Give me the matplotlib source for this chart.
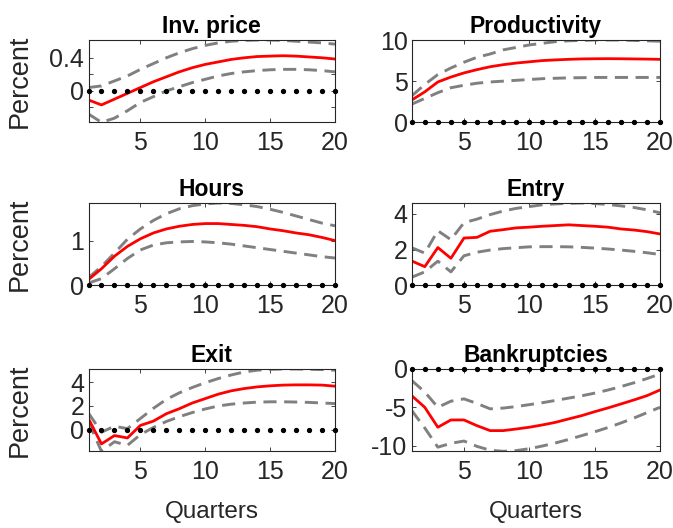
import numpy as np
import matplotlib
matplotlib.use("Agg")
import matplotlib.pyplot as plt

plt.rcParams['font.family'] = ['Liberation Sans', 'DejaVu Sans']

quarters = np.arange(1, 21)

titles = ["Inv. price", "Productivity", "Hours", "Entry", "Exit", "Bankruptcies"]

# median responses (red) and error bands (grey dashed)
inv_mid = [-0.11, -0.17, -0.10, -0.03, 0.04, 0.11, 0.17, 0.23, 0.28, 0.32,
           0.35, 0.38, 0.40, 0.415, 0.42, 0.425, 0.42, 0.41, 0.40, 0.385]
inv_hi = [0.04, 0.06, 0.12, 0.18, 0.26, 0.33, 0.40, 0.46, 0.51, 0.55,
          0.58, 0.60, 0.61, 0.615, 0.615, 0.61, 0.60, 0.59, 0.58, 0.565]
inv_lo = [-0.28, -0.38, -0.33, -0.24, -0.14, -0.07, 0.0, 0.05, 0.10, 0.14,
          0.18, 0.21, 0.23, 0.245, 0.255, 0.26, 0.26, 0.255, 0.245, 0.23]

prod_mid = [2.7, 3.7, 4.9, 5.5, 6.0, 6.4, 6.75, 7.0, 7.2, 7.35,
            7.5, 7.58, 7.65, 7.7, 7.72, 7.73, 7.72, 7.7, 7.68, 7.65]
prod_hi = [3.2, 4.6, 5.8, 6.6, 7.3, 7.9, 8.3, 8.8, 9.1, 9.4,
           9.6, 9.8, 9.9, 9.95, 10.0, 10.0, 10.0, 9.95, 9.9, 9.85]
prod_lo = [2.2, 2.9, 3.6, 4.2, 4.5, 4.75, 4.9, 5.0, 5.1, 5.2,
           5.3, 5.35, 5.4, 5.42, 5.45, 5.45, 5.45, 5.45, 5.45, 5.45]

hours_mid = [0.13, 0.37, 0.65, 0.87, 1.04, 1.17, 1.26, 1.32, 1.36, 1.38,
             1.38, 1.36, 1.34, 1.31, 1.26, 1.22, 1.17, 1.13, 1.07, 1.0]
hours_hi = [0.17, 0.42, 0.72, 1.03, 1.26, 1.45, 1.60, 1.71, 1.78, 1.82,
            1.84, 1.83, 1.80, 1.76, 1.70, 1.63, 1.55, 1.47, 1.39, 1.33]
hours_lo = [0.05, 0.15, 0.37, 0.60, 0.79, 0.90, 0.95, 0.97, 0.98, 0.97,
            0.95, 0.92, 0.88, 0.84, 0.80, 0.76, 0.72, 0.68, 0.64, 0.61]

entry_mid = [1.36, 1.04, 2.11, 1.51, 2.64, 2.68, 3.02, 3.11, 3.21, 3.25,
             3.30, 3.34, 3.38, 3.34, 3.30, 3.25, 3.15, 3.09, 3.0, 2.87]
entry_hi = [2.1, 1.8, 3.05, 2.55, 3.5, 3.7, 3.95, 4.15, 4.3, 4.4,
            4.5, 4.55, 4.58, 4.6, 4.57, 4.52, 4.44, 4.35, 4.22, 4.05]
entry_lo = [0.45, 0.75, 1.35, 0.75, 1.65, 1.85, 1.97, 2.05, 2.1, 2.15,
            2.16, 2.16, 2.15, 2.12, 2.08, 2.03, 1.97, 1.9, 1.82, 1.72]

exit_mid = [0.93, -1.18, -0.48, -0.68, 0.37, 0.73, 1.35, 1.77, 2.25, 2.62,
            2.99, 3.27, 3.46, 3.6, 3.69, 3.75, 3.77, 3.77, 3.75, 3.66]
exit_hi = [1.4, -0.2, 0.3, 0.1, 0.95, 1.8, 2.55, 3.1, 3.55, 3.95,
           4.3, 4.6, 4.85, 5.0, 5.07, 5.1, 5.1, 5.08, 5.05, 5.0]
exit_lo = [0.65, -1.8, -1.0, -1.3, -0.4, 0.2, 0.7, 1.1, 1.45, 1.75,
           2.0, 2.15, 2.25, 2.32, 2.35, 2.35, 2.33, 2.3, 2.25, 2.2]

bank_mid = [-3.48, -5.0, -7.6, -6.65, -6.65, -7.4, -8.04, -8.04, -7.83, -7.6,
            -7.3, -6.96, -6.52, -6.09, -5.57, -5.09, -4.57, -4.04, -3.48, -2.74]
bank_hi = [-1.5, -3.0, -5.0, -4.2, -3.9, -4.5, -5.2, -5.1, -4.9, -4.65,
           -4.4, -4.1, -3.8, -3.5, -3.15, -2.75, -2.3, -1.8, -1.25, -0.65]
bank_lo = [-5.4, -7.7, -10.2, -9.7, -9.4, -10.1, -10.6, -10.74, -10.65, -10.4,
           -10.05, -9.65, -9.2, -8.7, -8.2, -7.65, -7.05, -6.4, -5.7, -5.0]

mids = [inv_mid, prod_mid, hours_mid, entry_mid, exit_mid, bank_mid]
his = [inv_hi, prod_hi, hours_hi, entry_hi, exit_hi, bank_hi]
los = [inv_lo, prod_lo, hours_lo, entry_lo, exit_lo, bank_lo]

ytick_vals = [[-0.2, 0, 0.2, 0.4], [0, 5, 10], [0, 1], [0, 2, 4], [0, 2, 4], [-10, -5, 0]]
ytick_labs = [["", "0", "", "0.4"], ["0", "5", "10"], ["0", "1"], ["0", "2", "4"],
              ["0", "2", "4"], ["-10", "-5", "0"]]

fig = plt.figure(figsize=(6.73, 5.28), dpi=100)

W, H = 673.0, 528.0
col_x = [(88.5, 335.0), (411.7, 660.0)]
row_y = [(40.0, 122.3), (203.0, 285.3), (369.0, 451.3)]

txt = '#262626'
for i in range(6):
    r, c = divmod(i, 2)
    x0, x1 = col_x[c]
    y0, y1 = row_y[r]
    ax = fig.add_axes([x0 / W, 1 - y1 / H, (x1 - x0) / W, (y1 - y0) / H])

    ax.plot(quarters, his[i], color='#808080', lw=2.1, ls=(0, (4.5, 2.6)))
    ax.plot(quarters, los[i], color='#808080', lw=2.1, ls=(0, (4.5, 2.6)))
    ax.plot(quarters, mids[i], color='#ff0000', lw=2.0)
    ax.plot(quarters, np.zeros(len(quarters)), ls='none', marker='o', ms=2.8,
            color='k', clip_on=False, zorder=5)

    lo = min(min(los[i]), 0)
    hi = max(max(his[i]), 0)
    ax.set_xlim(1, 20)
    ax.set_ylim(lo, hi)
    ax.set_xticks([5, 10, 15, 20])
    ax.set_yticks(ytick_vals[i])
    ax.set_yticklabels(ytick_labs[i])
    ax.tick_params(direction='in', length=3, width=0.6, top=True, right=True,
                   labelsize=18, colors=txt)
    ax.tick_params(axis='x', pad=6)
    ax.tick_params(axis='y', pad=3)
    for sp in ax.spines.values():
        sp.set_color(txt)
        sp.set_linewidth(0.8)
    ax.set_title(titles[i], fontsize=16.5, fontweight='bold', pad=5, color='k')

    if c == 0:
        ax.set_ylabel("Percent", fontsize=19.5, color=txt)
        ax.yaxis.set_label_coords(-0.225, 0.5)
    if r == 2:
        ax.set_xlabel("Quarters", fontsize=17.5, color=txt)
        ax.xaxis.set_label_coords(0.5, -0.6)

fig.savefig("out.png", dpi=100)
